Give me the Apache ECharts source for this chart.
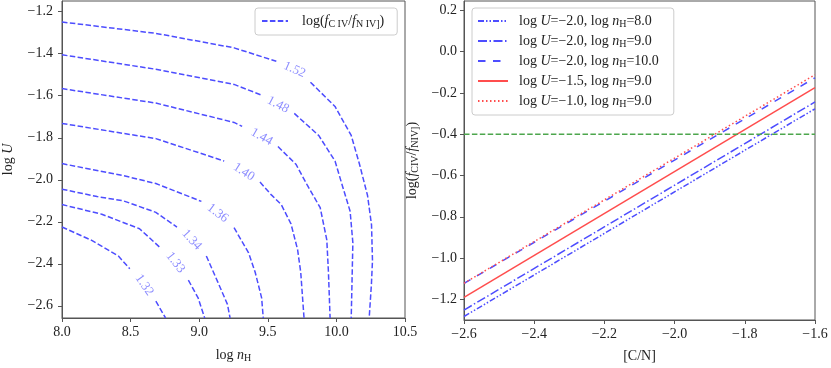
<!DOCTYPE html>
<html>
<head>
<meta charset="utf-8">
<script src="https://cdn.jsdelivr.net/npm/echarts@6/dist/echarts.min.js"></script>
<style>html,body{margin:0;padding:0;background:#fff}#c{width:831px;height:368px}</style>
</head>
<body>
<div id="c"></div>
<script>
// ---------- Left panel: contour lines of log(f_CIV / f_NIV]) in (log nH, log U) ----------
// null marks the gap where the inline contour label sits
const c152 = [[8.0,-1.249],[8.684,-1.303],[9.254,-1.372],[9.562,-1.436],null,[9.811,-1.536],[9.990,-1.651],[10.108,-1.789],[10.168,-1.925],[10.227,-2.075],[10.256,-2.215],[10.263,-2.385],[10.255,-2.50],[10.239,-2.658]];
const c148 = [[8.0,-1.405],[8.684,-1.474],[9.254,-1.546],[9.455,-1.597],null,[9.693,-1.684],[9.871,-1.789],[9.990,-1.911],[10.049,-2.040],[10.100,-2.150],[10.120,-2.300],[10.115,-2.450],[10.108,-2.658]];
const c144 = [[8.0,-1.566],[8.684,-1.635],[9.254,-1.727],[9.313,-1.746],null,[9.574,-1.842],[9.705,-1.926],[9.788,-2.026],[9.882,-2.133],[9.930,-2.286],[9.942,-2.440],[9.954,-2.658]];
const c140 = [[8.0,-1.732],[8.684,-1.804],[9.182,-1.911],null,[9.443,-2.011],[9.526,-2.072],[9.598,-2.118],[9.669,-2.210],[9.717,-2.332],[9.740,-2.440],[9.764,-2.658]];
const c136 = [[8.0,-1.923],[8.446,-1.980],[8.684,-2.018],[9.016,-2.103],null,[9.254,-2.228],[9.360,-2.348],[9.408,-2.440],[9.455,-2.562],[9.467,-2.658]];
const c134 = [[8.0,-2.045],[8.256,-2.080],[8.446,-2.100],[8.684,-2.155],[8.838,-2.225],null,[9.052,-2.363],[9.135,-2.486],[9.206,-2.593],[9.225,-2.658]];
const c133 = [[8.0,-2.118],[8.290,-2.164],[8.565,-2.233],[8.719,-2.325],null,[8.921,-2.478],[8.992,-2.562],[9.040,-2.658]];
const c132 = [[8.0,-2.225],[8.209,-2.286],[8.411,-2.363],[8.494,-2.424],null,[8.684,-2.578],[8.755,-2.658]];
const contourLevels = ['1.52','1.48','1.44','1.40','1.36','1.34','1.33','1.32'];
const contourLines = [c152,c148,c144,c140,c136,c134,c133,c132];
const contourLabelPos = [[9.695,-1.476],[9.574,-1.643],[9.455,-1.796],[9.325,-1.963],[9.135,-2.159],[8.945,-2.286],[8.826,-2.394],[8.600,-2.501]];
const contourLabelAngle = [-24,-28,-30,-33,-37,-47,-52,-55];
const leftXTicks = [8.0,8.5,9.0,9.5,10.0,10.5];
const leftYTicks = [-2.6,-2.4,-2.2,-2.0,-1.8,-1.6,-1.4,-1.2];

// ---------- Right panel: log(f_CIV/f_NIV]) vs [C/N] ----------
const cn = [-2.6, -1.6];
const U20n8  = [-1.283, -0.277];
const U20n9  = [-1.252, -0.244];
const U20n10 = [-1.123, -0.127];
const U15n9  = [-1.190, -0.175];
const U10n9  = [-1.122, -0.112];
const threshold = -0.4;
const rightXTicks = [-2.6,-2.4,-2.2,-2.0,-1.8,-1.6];
const rightYTicks = [-1.2,-1.0,-0.8,-0.6,-0.4,-0.2,0.0,0.2];

const FONT = 'Liberation Serif';
const TXT = '#222';
const FRAME = '#555';
const BLUE = '#4d4dff', RED = '#ff4d4d', GREEN = '#4da64d';
const fmt = v => (Math.abs(v) < 1e-9 ? 0 : v).toFixed(1).replace('-', '\u2212');

const rich = {
  r: {fontFamily: FONT, fontSize: 14, color: TXT},
  i: {fontFamily: FONT, fontSize: 14, fontStyle: 'italic', color: TXT},
  s: {fontFamily: FONT, fontSize: 10, color: TXT, padding: [6, 0, 0, 0]}
};
const legendRich = Object.assign({}, rich, {
  r0: {fontFamily: FONT, fontSize: 14, color: TXT, padding: [0, 0, 0, 6]},
  r1: {fontFamily: FONT, fontSize: 14, color: TXT, padding: [0, 0, 0, 9]}
});

function splitSegs(arr) {
  const segs = [[]];
  arr.forEach(p => { if (p === null) segs.push([]); else segs[segs.length - 1].push(p); });
  return segs;
}

const series = [];
contourLines.forEach((line) => {
  splitSegs(line).forEach(seg => {
    series.push({
      type: 'line', name: 'contour', xAxisIndex: 0, yAxisIndex: 0,
      data: seg, symbol: 'none', silent: true, animation: false,
      lineStyle: {color: BLUE, width: 1.5, type: [5.5, 2.4]}, itemStyle: {color: BLUE}
    });
  });
});
series.push({
  type: 'scatter', xAxisIndex: 0, yAxisIndex: 0, symbolSize: 0, silent: true, animation: false,
  data: contourLabelPos.map((p, k) => ({value: p, label: {rotate: contourLabelAngle[k], formatter: contourLevels[k]}})),
  label: {show: true, position: 'inside', fontFamily: FONT, fontSize: 13, color: '#7070ff'}
});

function lineSeries(name, ys, color, type) {
  return {
    type: 'line', name: name, xAxisIndex: 1, yAxisIndex: 1,
    data: cn.map((x, k) => [x, ys[k]]), symbol: 'none', animation: false, silent: true,
    lineStyle: {color: color, width: 1.5, type: type}, itemStyle: {color: color}
  };
}
series.push(lineSeries('n8', U20n8, BLUE, [6, 2, 1.5, 2, 1.5, 2]));
series.push(lineSeries('n9', U20n9, BLUE, [9, 2.5, 1.5, 2.5]));
series.push(lineSeries('n10', U20n10, BLUE, [7.5, 7.5]));
series.push(lineSeries('u15', U15n9, RED, 'solid'));
series.push(lineSeries('u10', U10n9, RED, [1.5, 2.5]));
series.push({
  type: 'line', name: 'thr', xAxisIndex: 1, yAxisIndex: 1,
  data: cn.map(x => [x, threshold]), symbol: 'none', animation: false, silent: true,
  lineStyle: {color: GREEN, width: 1.5, type: [5.5, 2.4]}
});

const legendNames = {
  n8:  '{r0|log }{i|U}{r|=\u22122.0, log }{i|n}{s|H}{r|=8.0}',
  n9:  '{r0|log }{i|U}{r|=\u22122.0, log }{i|n}{s|H}{r|=9.0}',
  n10: '{r0|log }{i|U}{r|=\u22122.0, log }{i|n}{s|H}{r|=10.0}',
  u15: '{r0|log }{i|U}{r|=\u22121.5, log }{i|n}{s|H}{r|=9.0}',
  u10: '{r0|log }{i|U}{r|=\u22121.0, log }{i|n}{s|H}{r|=9.0}',
  contour: '{r1|log(}{i|f}{s|C IV}{r|/}{i|f}{s|N IV]}{r|)}'
};

function axisCommon(extra) {
  return Object.assign({
    type: 'value', splitLine: {show: false},
    axisLine: {show: true, onZero: false, lineStyle: {color: FRAME, width: 1}},
    axisTick: {show: true, length: 4, lineStyle: {color: FRAME}},
    axisLabel: {fontFamily: FONT, fontSize: 14, color: TXT, formatter: fmt},
    nameLocation: 'middle',
    nameTextStyle: {rich: rich}
  }, extra);
}

const legendCommon = {
  orient: 'vertical', itemHeight: 14, itemGap: 5,
  borderColor: '#ccc', borderWidth: 1, borderRadius: 3, backgroundColor: '#fff',
  itemStyle: {opacity: 0, borderWidth: 0},
  formatter: n => legendNames[n],
  textStyle: {rich: legendRich}
};

const option = {
  animation: false,
  grid: [
    {left: 54, top: 1, width: 351, height: 328, show: true, borderColor: FRAME, borderWidth: 1},
    {left: 464, top: 1, width: 351, height: 328, show: true, borderColor: FRAME, borderWidth: 1}
  ],
  xAxis: [
    axisCommon({gridIndex: 0, min: 8.0, max: 10.5,
      axisTick: {show: true, length: 4, lineStyle: {color: FRAME}, customValues: leftXTicks},
      axisLabel: {fontFamily: FONT, fontSize: 14, color: TXT, formatter: fmt, margin: 7, customValues: leftXTicks},
      name: '{r|log }{i|n}{s|H}', nameGap: 29}),
    axisCommon({gridIndex: 1, min: -2.6, max: -1.6,
      axisTick: {show: true, length: 4, lineStyle: {color: FRAME}, customValues: rightXTicks},
      axisLabel: {fontFamily: FONT, fontSize: 14, color: TXT, formatter: fmt, margin: 7, customValues: rightXTicks},
      name: '{r|[C/N]}', nameGap: 29})
  ],
  yAxis: [
    axisCommon({gridIndex: 0, min: -2.658, max: -1.149,
      axisTick: {show: true, length: 4, lineStyle: {color: FRAME}, customValues: leftYTicks},
      axisLabel: {fontFamily: FONT, fontSize: 14, color: TXT, formatter: fmt, margin: 9, customValues: leftYTicks},
      name: '{r|log }{i|U}', nameRotate: 90, nameGap: 47}),
    axisCommon({gridIndex: 1, min: -1.3, max: 0.245,
      axisTick: {show: true, length: 4, lineStyle: {color: FRAME}, customValues: rightYTicks},
      axisLabel: {fontFamily: FONT, fontSize: 14, color: TXT, formatter: fmt, margin: 7, customValues: rightYTicks},
      name: '{r|log(}{i|f}{s|CIV}{r|/}{i|f}{s|NIV]}{r|)}', nameRotate: 90, nameGap: 44})
  ],
  legend: [
    Object.assign({}, legendCommon, {data: ['contour'], left: 255, top: 8, padding: [6, 13, 6, 6], itemWidth: 26}),
    Object.assign({}, legendCommon, {data: ['n8','n9','n10','u15','u10'], left: 472, top: 8, padding: [6, 15, 6, 5], itemWidth: 30})
  ],
  series: series
};

const chart = echarts.init(document.getElementById('c'), null, {renderer: 'canvas'});
chart.setOption(option);
</script>
</body>
</html>
